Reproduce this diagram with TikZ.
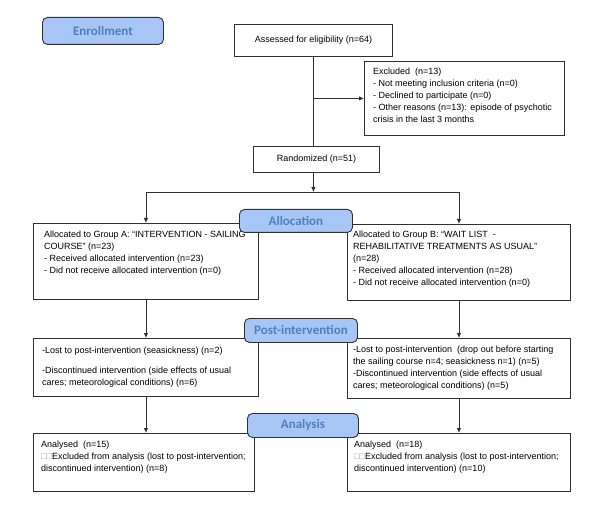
\documentclass[tikz,border=0pt]{standalone}
\usepackage{fontspec}
\setmainfont{Liberation Sans}
\newfontfamily\labelfont{Carlito}
\usetikzlibrary{arrows.meta,calc}
\definecolor{lblfill}{HTML}{A8C6F5}
\definecolor{lbltext}{HTML}{4F7FC0}
\definecolor{lineclr}{HTML}{303030}
\definecolor{boxglyph}{HTML}{A0A0A0}
\tikzset{
  box/.style={draw=lineclr, line width=0.9pt, anchor=north west, inner sep=0pt},
  txt/.style={anchor=north west, inner sep=0pt, align=left, font=\fontsize{9}{12}\selectfont},
  ctxt/.style={inner sep=0pt, font=\fontsize{9}{12}\selectfont},
  phase/.style={draw=lineclr, line width=0.9pt, fill=lblfill, rounded corners=5pt,
    anchor=north west, inner sep=0pt, font=\labelfont\bfseries\fontsize{13}{15}\selectfont, text=lbltext},
  conn/.style={draw=lineclr, line width=0.9pt},
  arr/.style={conn, -{Latex[length=5pt,width=4.5pt]}}
}
\begin{document}
\begin{tikzpicture}[x=1pt,y=-1pt]
\useasboundingbox (0,0) rectangle (600,505);
% boxes
\node[box, minimum width=158pt, minimum height=32pt] (assess) at (234,24) {};
\node[ctxt] (assesst) at (assess.center) {Assessed for eligibility (n=64)};
\node[box, minimum width=200pt, minimum height=74pt] (excl) at (364,61) {};
\node[txt] (exclt) at ($(excl.north west)+(9,7)$) {Excluded\ \ (n=13)\\- Not meeting inclusion criteria (n=0)\\- Declined to participate (n=0)\\- Other reasons (n=13): episode of psychotic\\crisis in the last 3 months};
\node[box, minimum width=126pt, minimum height=26pt] (rand) at (253,146) {};
\node[ctxt] (randt) at (rand.center) {Randomized (n=51)};
\node[box, minimum width=225pt, minimum height=76pt] (ga) at (33,223) {};
\node[txt] (gat) at ($(ga.north west)+(11,8)$) {Allocated to Group A: “INTERVENTION - SAILING\\COURSE” (n=23)\\- Received allocated intervention (n=23)\\- Did not receive allocated intervention (n=0)};
\node[box, minimum width=223pt, minimum height=76pt] (gb) at (347,224) {};
\node[txt] (gbt) at ($(gb.north west)+(6,7)$) {Allocated to Group B: “WAIT LIST\ \ -\\REHABILITATIVE TREATMENTS AS USUAL”\\(n=28)\\- Received allocated intervention (n=28)\\- Did not receive allocated intervention (n=0)};
\node[box, minimum width=225pt, minimum height=58pt] (pa) at (33,338) {};
\node[txt] (pat) at ($(pa.north west)+(9,9)$) {-Lost to post-intervention (seasickness) (n=2)\\[8pt]-Discontinued intervention (side effects of usual\\cares; meteorological conditions) (n=6)};
\node[box, minimum width=223pt, minimum height=60pt] (pb) at (347,338) {};
\node[txt] (pbt) at ($(pb.north west)+(6,8)$) {-Lost to post-intervention\ \ (drop out before starting\\the sailing course n=4; seasickness n=1) (n=5)\\-Discontinued intervention (side effects of usual\\cares; meteorological conditions) (n=5)};
\node[box, minimum width=221pt, minimum height=58pt] (aa) at (33,433) {};
\node[txt] (aat) at ($(aa.north west)+(8,8)$) {Analysed\ \ (n=15)\\{\color{boxglyph}□□}Excluded from analysis (lost to post-intervention;\\discontinued intervention) (n=8)};
\node[box, minimum width=223pt, minimum height=58pt] (ab) at (347,433) {};
\node[txt] (abt) at ($(ab.north west)+(7,8)$) {Analysed\ \ (n=18)\\{\color{boxglyph}□□}Excluded from analysis (lost to post-intervention;\\discontinued intervention) (n=10)};
% connectors
\coordinate (branch) at (assess.south |- excl.west);
\coordinate (split) at (assess.south |- 0,192);
\coordinate (splitL) at (ga.north |- split);
\coordinate (splitR) at (gb.north |- split);
\draw[conn] (assess.south) -- (assess.south |- rand.north);
\draw[arr] (branch) -- (excl.west);
\draw[arr] (assess.south |- rand.south) -- (split);
\draw[conn] (splitL) -- (splitR);
\draw[arr] (splitL) -- (ga.north);
\draw[arr] (splitR) -- (gb.north);
\draw[arr] (ga.south) -- (pa.north);
\draw[arr] (gb.south) -- (pb.north);
\draw[arr] (pa.south) -- (aa.north -| pa.south);
\draw[arr] (pb.south) -- (ab.north -| pb.south);
% phase labels
\node[phase, minimum width=121pt, minimum height=27pt] (enroll) at (42,17) {Enrollment};
\node[phase, minimum width=113pt, minimum height=23pt] (alloc) at (239,209) {Allocation};
\node[phase, minimum width=113pt, minimum height=24pt] (post) at (244,318) {Post-intervention};
\node[phase, minimum width=111pt, minimum height=24pt] (anal) at (247,413) {Analysis};
\end{tikzpicture}
\end{document}
